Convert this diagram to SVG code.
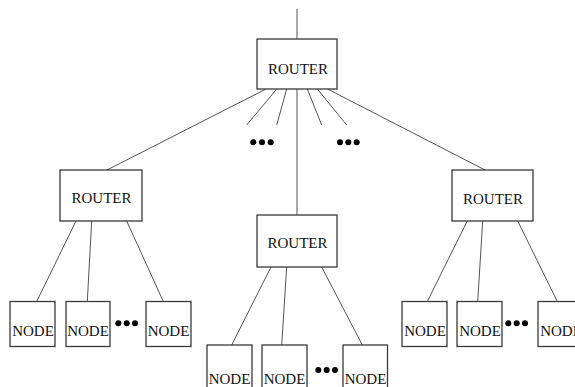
<svg xmlns="http://www.w3.org/2000/svg" width="575" height="387" viewBox="0 0 575 387">
<style>
.box{fill:#fff;stroke:#3a3a3a;stroke-width:1.3}
.lbl{font-family:"Liberation Serif","Times New Roman",serif;font-size:15px;fill:#111;text-anchor:middle}
.ln{stroke:#555;stroke-width:1;fill:none}
.dot{fill:#000}
</style>
<rect width="575" height="387" fill="#fff"/>
<g id="connectors">
<line class="ln" x1="297" y1="9" x2="297" y2="39"/>
<line class="ln" x1="297" y1="89" x2="297" y2="215"/>
<line class="ln" x1="266" y1="89" x2="107" y2="170"/>
<line class="ln" x1="327.5" y1="89" x2="485" y2="170"/>
<line class="ln" x1="276.7" y1="89" x2="246.7" y2="125"/>
<line class="ln" x1="286.7" y1="89" x2="276.7" y2="125"/>
<line class="ln" x1="307.3" y1="89" x2="321.7" y2="125"/>
<line class="ln" x1="317.3" y1="89" x2="346.7" y2="125"/>
<line class="ln" x1="76" y1="221" x2="36.7" y2="301.5"/>
<line class="ln" x1="91.7" y1="221" x2="87.3" y2="301.5"/>
<line class="ln" x1="126.7" y1="221" x2="163.3" y2="301.5"/>
<line class="ln" x1="271" y1="267" x2="231.7" y2="345"/>
<line class="ln" x1="286.7" y1="267" x2="281.7" y2="345"/>
<line class="ln" x1="321.7" y1="267" x2="362.3" y2="345"/>
<line class="ln" x1="467.3" y1="221" x2="427.3" y2="301.5"/>
<line class="ln" x1="482.7" y1="221" x2="477.7" y2="301.5"/>
<line class="ln" x1="517.7" y1="221" x2="557.3" y2="301.5"/>
</g>
<g id="router-top"><rect class="box" x="257" y="39" width="80" height="50"/><text class="lbl" x="298" y="74">ROUTER</text></g>
<g id="router-left"><rect class="box" x="60" y="170" width="82" height="51"/><text class="lbl" x="101.5" y="203">ROUTER</text></g>
<g id="router-center"><rect class="box" x="257" y="215" width="80" height="52"/><text class="lbl" x="297.5" y="248">ROUTER</text></g>
<g id="router-right"><rect class="box" x="452" y="170" width="81" height="51"/><text class="lbl" x="493" y="203.5">ROUTER</text></g>
<g id="node-l1"><rect class="box" x="10" y="301.5" width="45" height="45"/><text class="lbl" x="33" y="336">NODE</text></g>
<g id="node-l2"><rect class="box" x="66" y="301.5" width="44" height="45"/><text class="lbl" x="88" y="336">NODE</text></g>
<g id="node-l3"><rect class="box" x="146" y="301.5" width="45" height="45"/><text class="lbl" x="168.5" y="336">NODE</text></g>
<g id="node-c1"><rect class="box" x="207" y="345" width="45" height="50"/><text class="lbl" x="229.5" y="383.5">NODE</text></g>
<g id="node-c2"><rect class="box" x="262" y="345" width="45" height="50"/><text class="lbl" x="284.5" y="383.5">NODE</text></g>
<g id="node-c3"><rect class="box" x="343" y="345" width="44.5" height="50"/><text class="lbl" x="365.5" y="383.5">NODE</text></g>
<g id="node-r1"><rect class="box" x="402" y="301.5" width="45" height="45"/><text class="lbl" x="425" y="336">NODE</text></g>
<g id="node-r2"><rect class="box" x="457" y="301.5" width="45" height="45"/><text class="lbl" x="480" y="336">NODE</text></g>
<g id="node-r3"><rect class="box" x="538" y="301.5" width="45" height="45"/><text class="lbl" x="561" y="336">NODE</text></g>
<g id="dots">
<circle class="dot" cx="253.3" cy="142.3" r="3"/><circle class="dot" cx="262" cy="142.3" r="3"/><circle class="dot" cx="270.7" cy="142.3" r="3"/>
<circle class="dot" cx="340" cy="142.3" r="3"/><circle class="dot" cx="348.3" cy="142.3" r="3"/><circle class="dot" cx="356.7" cy="142.3" r="3"/>
<circle class="dot" cx="118.3" cy="323.3" r="3"/><circle class="dot" cx="126.7" cy="323.3" r="3"/><circle class="dot" cx="135" cy="323.3" r="3"/>
<circle class="dot" cx="318.3" cy="370" r="3"/><circle class="dot" cx="326.7" cy="370" r="3"/><circle class="dot" cx="335" cy="370" r="3"/>
<circle class="dot" cx="508.3" cy="323.3" r="3"/><circle class="dot" cx="516.7" cy="323.3" r="3"/><circle class="dot" cx="525" cy="323.3" r="3"/>
</g>
</svg>
